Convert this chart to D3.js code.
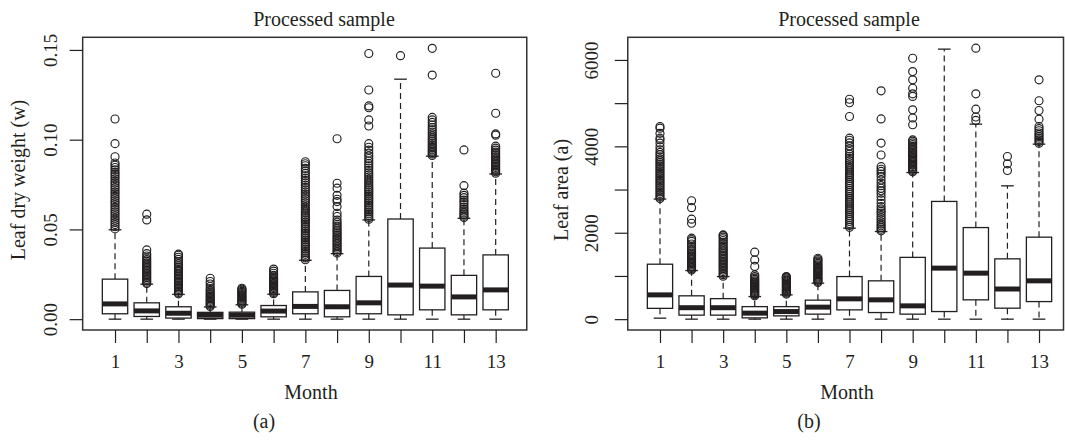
<html>
<head>
<script src="https://d3js.org/d3.v7.min.js"></script>
<style>
  body { margin: 0; background: #fff; }
  text { font-family: "Liberation Serif", "DejaVu Serif", serif; fill: #231f20; }
</style>
</head>
<body>
<div id="chart"></div>
<script>
// months on the x axis
var months = [1, 2, 3, 4, 5, 6, 7, 8, 9, 10, 11, 12, 13];
var monthLabels = ["1", "", "3", "", "5", "", "7", "", "9", "", "11", "", "13"];

// (a) leaf dry weight: whisker ends, quartiles, medians
var wLow  = [0, 0, 0, 0, 0, 0, 0, 0, 0, 0, 0, 0, 0];
var wQ1   = [0.0030, 0.0015, 0.0006, 0.0003, 0.0003, 0.0013, 0.0030, 0.0013, 0.0030, 0.0024, 0.0052, 0.0024, 0.0052];
var wMed  = [0.0085, 0.0046, 0.0033, 0.0022, 0.0022, 0.0045, 0.0071, 0.0069, 0.0091, 0.0190, 0.0184, 0.0124, 0.0163];
var wQ3   = [0.0223, 0.0091, 0.0069, 0.0038, 0.0039, 0.0076, 0.0152, 0.0160, 0.0238, 0.0558, 0.0396, 0.0244, 0.0358];
var wHigh = [0.0498, 0.0195, 0.0138, 0.0068, 0.0080, 0.0139, 0.0328, 0.0365, 0.0553, 0.1337, 0.0908, 0.0562, 0.0809];
var wOut = [
  [0.0503,0.0515,0.0527,0.0538,0.0551,0.0562,0.0575,0.0587,0.0598,0.0611,0.0623,0.0636,0.0648,0.0659,0.0672,0.0684,0.0697,0.0708,0.0721,0.0733,0.0746,0.0758,0.0769,0.0782,0.0795,0.0807,0.0818,0.0832,0.0845,0.0858,0.0870,0.0905,0.0978,0.1115],
  [0.0198,0.0206,0.0214,0.0222,0.0231,0.0239,0.0247,0.0256,0.0264,0.0272,0.0281,0.0289,0.0297,0.0306,0.0314,0.0323,0.0332,0.0341,0.0352,0.0365,0.0386,0.0553,0.0585],
  [0.0141,0.0149,0.0157,0.0165,0.0173,0.0181,0.0189,0.0198,0.0206,0.0214,0.0222,0.0230,0.0239,0.0247,0.0255,0.0264,0.0272,0.0281,0.0290,0.0299,0.0309,0.0321,0.0333,0.0345,0.0356,0.0362],
  [0.0071,0.0078,0.0085,0.0092,0.0099,0.0106,0.0113,0.0121,0.0128,0.0135,0.0143,0.0151,0.0160,0.0170,0.0182,0.0196,0.0210,0.0228],
  [0.0083,0.0089,0.0095,0.0101,0.0107,0.0113,0.0119,0.0125,0.0131,0.0137,0.0143,0.0149,0.0155,0.0161,0.0167,0.0172],
  [0.0142,0.0149,0.0156,0.0163,0.0170,0.0177,0.0184,0.0191,0.0198,0.0205,0.0212,0.0219,0.0226,0.0234,0.0244,0.0256,0.0268,0.0279],
  [0.0331,0.0341,0.0351,0.0361,0.0371,0.0381,0.0391,0.0401,0.0411,0.0421,0.0431,0.0441,0.0451,0.0461,0.0471,0.0481,0.0491,0.0501,0.0511,0.0521,0.0531,0.0541,0.0551,0.0561,0.0571,0.0581,0.0591,0.0601,0.0612,0.0624,0.0636,0.0648,0.0660,0.0672,0.0685,0.0697,0.0709,0.0721,0.0734,0.0747,0.0760,0.0773,0.0786,0.0799,0.0812,0.0826,0.0840,0.0855,0.0866,0.0877],
  [0.0368,0.0377,0.0386,0.0395,0.0404,0.0413,0.0422,0.0431,0.0440,0.0449,0.0458,0.0467,0.0477,0.0487,0.0497,0.0507,0.0518,0.0529,0.0540,0.0552,0.0572,0.0590,0.0627,0.0655,0.0668,0.0690,0.0730,0.0757,0.1005],
  [0.0557,0.0567,0.0577,0.0587,0.0597,0.0607,0.0617,0.0627,0.0637,0.0647,0.0657,0.0667,0.0677,0.0687,0.0697,0.0707,0.0717,0.0727,0.0737,0.0747,0.0758,0.0769,0.0780,0.0792,0.0804,0.0816,0.0829,0.0842,0.0855,0.0868,0.0881,0.0895,0.0910,0.0925,0.0942,0.0958,0.0978,0.1076,0.1110,0.1178,0.1188,0.1277,0.1480],
  [0.1468],
  [0.0912,0.0920,0.0928,0.0936,0.0944,0.0953,0.0962,0.0971,0.0980,0.0990,0.1000,0.1010,0.1021,0.1032,0.1043,0.1055,0.1068,0.1082,0.1096,0.1110,0.1124,0.1360,0.1509],
  [0.0566,0.0574,0.0583,0.0592,0.0601,0.0612,0.0624,0.0638,0.0651,0.0663,0.0677,0.0690,0.0702,0.0744,0.0943],
  [0.0813,0.0821,0.0829,0.0837,0.0845,0.0853,0.0861,0.0869,0.0877,0.0886,0.0895,0.0904,0.0913,0.0922,0.0931,0.0942,0.0953,0.0964,0.1025,0.1032,0.1147,0.1370]
];
var wTicks = [0, 0.05, 0.10, 0.15];

// (b) leaf area
var aLow  = [23, 0, 0, 0, 0, 0, 0, 0, 0, 0, 0, 0, 0];
var aQ1   = [250, 93, 93, 30, 76, 116, 215, 153, 116, 176, 447, 254, 407];
var aMed  = [562, 265, 265, 139, 176, 278, 470, 447, 308, 1181, 1065, 698, 887];
var aQ3   = [1272, 540, 475, 290, 290, 440, 986, 887, 1430, 2725, 2120, 1396, 1898];
var aHigh = [2780, 1125, 986, 523, 562, 833, 2106, 2028, 3394, 6250, 4514, 3086, 4051];
var aOut = [
  [2790,2830,2870,2910,2950,2990,3030,3070,3110,3150,3190,3230,3270,3310,3350,3390,3430,3470,3510,3550,3590,3630,3670,3710,3760,3810,3860,3920,3990,4075,4150,4190,4300,4420,4460],
  [1135,1165,1195,1225,1255,1285,1315,1345,1375,1405,1435,1465,1495,1525,1560,1595,1630,1680,1740,1800,1840,1875,2220,2315,2580,2740],
  [995,1030,1065,1100,1135,1170,1205,1240,1275,1310,1345,1380,1415,1450,1485,1520,1555,1590,1625,1660,1700,1740,1780,1820,1860,1900,1935,1950],
  [540,565,590,615,640,665,690,715,740,765,790,815,840,865,890,920,950,985,1025,1220,1370,1550],
  [580,605,630,655,680,705,730,755,780,805,830,855,880,905,930,955,975,986],
  [850,875,900,925,950,975,1000,1025,1050,1075,1100,1125,1150,1175,1200,1230,1260,1290,1320,1350,1380,1410],
  [2125,2170,2215,2260,2305,2350,2395,2440,2485,2530,2575,2620,2665,2710,2755,2800,2845,2890,2935,2980,3025,3070,3115,3160,3205,3250,3295,3340,3385,3430,3475,3520,3570,3620,3670,3720,3770,3820,3880,3940,4010,4080,4140,4190,4690,5010,5090],
  [2045,2080,2120,2160,2200,2250,2300,2350,2400,2455,2500,2550,2605,2680,2760,2840,2915,2970,3030,3090,3150,3220,3300,3360,3420,3470,3530,3800,4075,4635,5285],
  [3410,3440,3470,3500,3530,3560,3590,3620,3650,3680,3710,3740,3770,3800,3830,3860,3895,3930,3965,4000,4040,4080,4120,4150,4500,4655,4845,5155,5215,5345,5540,5730,6040],
  [],
  [4600,4680,4860,5215,6273],
  [3440,3595,3765],
  [4070,4110,4150,4190,4230,4270,4310,4360,4410,4460,4630,4830,5055,5540]
];
var aTicks = [0, 1000, 2000, 3000, 4000, 5000, 6000];

var width = 1065, height = 440;
var ink = "#231f20";

var svg = d3.select("#chart").append("svg")
    .attr("width", width)
    .attr("height", height);

function drawPanel(p) {
    var g = svg.append("g");
    var x = d3.scaleLinear().domain([0, 14]).range(p.xRange);
    var y = d3.scaleLinear().domain(p.yDomain).range([330, 37.3]);
    var bw = 0.8 * (x(1) - x(0));

    var rows = months.map(function (m, i) {
        return { m: m, lo: p.low[i], q1: p.q1[i], med: p.med[i], q3: p.q3[i], hi: p.high[i], out: p.out[i] };
    });

    // dashed whiskers
    g.selectAll(".wh-up").data(rows).enter().append("line")
        .attr("x1", d => x(d.m)).attr("x2", d => x(d.m))
        .attr("y1", d => y(d.q3)).attr("y2", d => y(d.hi))
        .attr("stroke", ink).attr("stroke-width", 1.2).attr("stroke-dasharray", "6,4");
    g.selectAll(".wh-dn").data(rows).enter().append("line")
        .attr("x1", d => x(d.m)).attr("x2", d => x(d.m))
        .attr("y1", d => y(d.q1)).attr("y2", d => y(d.lo))
        .attr("stroke", ink).attr("stroke-width", 1.2).attr("stroke-dasharray", "6,4");
    // staples
    ["hi", "lo"].forEach(function (k) {
        g.selectAll(".st-" + k).data(rows).enter().append("line")
            .attr("x1", d => x(d.m) - bw / 4).attr("x2", d => x(d.m) + bw / 4)
            .attr("y1", d => y(d[k])).attr("y2", d => y(d[k]))
            .attr("stroke", ink).attr("stroke-width", 1.3);
    });
    // boxes
    g.selectAll(".box").data(rows).enter().append("rect")
        .attr("x", d => x(d.m) - bw / 2)
        .attr("width", bw)
        .attr("y", d => y(d.q3))
        .attr("height", d => y(d.q1) - y(d.q3))
        .attr("fill", "#fff").attr("stroke", ink).attr("stroke-width", 1.3);
    // medians
    g.selectAll(".med").data(rows).enter().append("line")
        .attr("x1", d => x(d.m) - bw / 2).attr("x2", d => x(d.m) + bw / 2)
        .attr("y1", d => y(d.med)).attr("y2", d => y(d.med))
        .attr("stroke", ink).attr("stroke-width", 5);
    // outliers
    var pts = [];
    rows.forEach(function (d) { d.out.forEach(function (v) { pts.push({ m: d.m, v: v }); }); });
    g.selectAll(".out").data(pts).enter().append("circle")
        .attr("cx", d => x(d.m)).attr("cy", d => y(d.v)).attr("r", 4)
        .attr("fill", "none").attr("stroke", ink).attr("stroke-width", 1.15);

    // frame
    var fx0 = x(-0.02), fx1 = Math.min(x(13.98), 1063.5);
    g.append("rect")
        .attr("x", fx0).attr("y", 37.3)
        .attr("width", fx1 - fx0).attr("height", 330 - 37.3)
        .attr("fill", "none").attr("stroke", "#333").attr("stroke-width", 1.5);

    // x axis
    var xa = g.append("g").attr("transform", "translate(0,330)")
        .call(d3.axisBottom(x).tickValues(months).tickSize(13)
            .tickFormat((d, i) => monthLabels[i]));
    xa.select(".domain").remove();
    xa.selectAll("line").attr("stroke", ink).attr("stroke-width", 1.2);
    xa.selectAll("text").attr("y", 38).attr("dy", 0).style("font-size", "19px");

    // y axis
    var ya = g.append("g").attr("transform", "translate(" + fx0 + ",0)")
        .call(d3.axisLeft(y).tickValues(p.ticks).tickSize(13).tickFormat(p.fmt));
    ya.select(".domain").remove();
    ya.selectAll("line").attr("stroke", ink).attr("stroke-width", 1.2);
    ya.selectAll("text")
        .attr("x", null).attr("dy", null)
        .attr("text-anchor", "middle")
        .attr("transform", "translate(" + (-p.tickLabelOff) + ",0) rotate(-90)")
        .style("font-size", "19px");

    // texts
    g.append("text").attr("x", p.titleX).attr("y", 25.7).attr("text-anchor", "middle")
        .style("font-size", "20px").text("Processed sample");
    g.append("text").attr("x", p.monthX).attr("y", 399).attr("text-anchor", "middle")
        .style("font-size", "20px").text("Month");
    g.append("text").attr("x", p.subX).attr("y", 428).attr("text-anchor", "middle")
        .style("font-size", "20px").text(p.sub);
    g.append("text")
        .attr("transform", "translate(" + p.yLabelX + "," + p.yLabelY + ") rotate(-90)")
        .attr("text-anchor", "middle")
        .style("font-size", "20px").text(p.yLabel);
}

drawPanel({
    xRange: [83.3, 527.4], yDomain: [-0.00604, 0.15704],
    low: wLow, q1: wQ1, med: wMed, q3: wQ3, high: wHigh, out: wOut,
    ticks: wTicks, fmt: d3.format(".2f"), tickLabelOff: 26,
    titleX: 324, monthX: 311, subX: 264, sub: "(a)",
    yLabel: "Leaf dry weight (w)", yLabelX: 25, yLabelY: 180
});

drawPanel({
    xRange: [628.4, 1070.6], yDomain: [-251, 6524],
    low: aLow, q1: aQ1, med: aMed, q3: aQ3, high: aHigh, out: aOut,
    ticks: aTicks, fmt: d => (d % 2000 === 0 ? d3.format("d")(d) : ""), tickLabelOff: 30,
    titleX: 849, monthX: 847, subX: 809, sub: "(b)",
    yLabel: "Leaf area (a)", yLabelX: 568, yLabelY: 190
});
</script>
</body>
</html>
